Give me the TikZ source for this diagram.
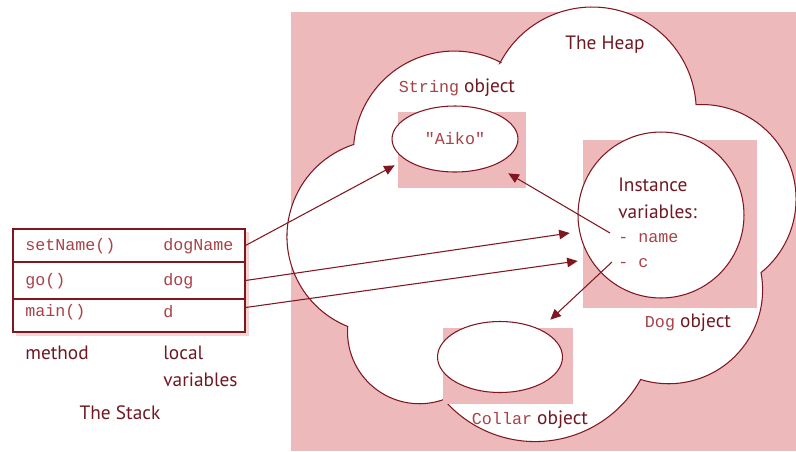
\documentclass[tikz,border=0pt]{standalone}
\usepackage{fontspec}
\setsansfont{PT Sans}
\setmonofont{Liberation Mono}
\usepackage{tikz}
\usetikzlibrary{shapes.geometric,arrows.meta,calc}
\definecolor{heappink}{RGB}{237,185,187}
\definecolor{lineRed}{RGB}{128,22,32}
\definecolor{labelRed}{RGB}{112,24,34}
\definecolor{codeRed}{RGB}{168,66,72}
\newcommand{\jcode}[1]{{\ttfamily\fontsize{9.5}{11}\selectfont\color{codeRed}#1}}
\tikzset{
  lbl/.style={font=\sffamily\fontsize{11}{13}\selectfont, text=labelRed, inner sep=0pt},
  codetxt/.style={font=\ttfamily\fontsize{9.5}{11}\selectfont, text=codeRed, inner sep=0pt},
  objbox/.style={fill=heappink, draw=none, inner sep=0pt},
  objshape/.style={draw=lineRed, fill=white, line width=0.6pt, inner sep=0pt},
  stackrow/.style={draw=lineRed, line width=0.6pt, minimum width=4.64cm, inner sep=0pt},
  pointer/.style={draw=lineRed, line width=0.6pt, -{Triangle[length=0.21cm,width=0.19cm]}}
}

\begin{document}
\begin{tikzpicture}[x=0.02cm, y=-0.02cm]
    \useasboundingbox (0,0) rectangle (796,451);
    % the heap
    \fill[heappink] (291,12) rectangle (796,451);
    \draw[lineRed, fill=white, line width=0.6pt] (500,63)
        arc[start angle=207.5, end angle=356.5, radius=104]
        arc[start angle=266.7, end angle=411, radius=94.6]
        arc[start angle=349.5, end angle=467.3, radius=94]
        arc[start angle=29, end angle=139.4, radius=120.5]
        arc[start angle=70.2, end angle=184.3, radius=71.9]
        arc[start angle=111.9, end angle=251.9, radius=96.9]
        arc[start angle=184.2, end angle=297.5, radius=100.8] -- cycle;
    \node[lbl] (heap) at (605,45) {The Heap};

    % String object
    \node[objbox, minimum width=2.56cm, minimum height=1.52cm] (strbox) at (462,150) {};
    \node[objshape, ellipse, minimum width=2.52cm, minimum height=1.32cm, codetxt] (aiko) at (455,139) {"Aiko"};
    \node[lbl] (strlbl) at (457,88) {\jcode{String} object};

    % Dog object
    \node[objbox, minimum width=3.48cm, minimum height=3.36cm] (dogbox) at (670,224) {};
    \node[objshape, circle, minimum size=3.32cm] (dog) at (661,215) {};
    \node[lbl, anchor=west] (inst) at (618,185) {Instance};
    \node[lbl, anchor=west] (vars) at (618,212) {variables:};
    \node[codetxt, anchor=west] (vname) at (618,238) {- name};
    \node[codetxt, anchor=west] (vc) at (618,263) {- c};
    \node[lbl] (doglbl) at (688,323) {\jcode{Dog} object};

    % Collar object
    \node[objbox, minimum width=2.6cm, minimum height=1.52cm] (collarbox) at (508,366) {};
    \node[objshape, ellipse, minimum width=2.5cm, minimum height=1.42cm] (collar) at (500,357) {};
    \node[lbl] (collarlbl) at (530,420) {\jcode{Collar} object};

    % the stack
    \fill[heappink!60] (16,232) rectangle (249,336);
    \node[stackrow, fill=white, minimum height=0.66cm] (r1) at (129,245.5) {};
    \node[stackrow, fill=white, minimum height=0.74cm] (r2) at (129,280.5) {};
    \node[stackrow, fill=white, minimum height=0.66cm] (r3) at (129,315.5) {};
    \node[codetxt, anchor=west] (m1) at (25,246) {setName()};
    \node[codetxt, anchor=west] (v1) at (163,246) {dogName};
    \node[codetxt, anchor=west] (m2) at (25,281) {go()};
    \node[codetxt, anchor=west] (v2) at (163,281) {dog};
    \node[codetxt, anchor=west] (m3) at (25,312) {main()};
    \node[codetxt, anchor=west] (v3) at (163,312) {d};
    \node[lbl, anchor=west] (method) at (25,353) {method};
    \node[lbl, anchor=west] (local) at (163,353) {local};
    \node[lbl, anchor=west] (localvars) at (163,380) {variables};
    \node[lbl] (stack) at (120,413) {The Stack};

    % references
    \draw[pointer] (r1.east) -- ($(strbox.south west)+(-3,-23)$);
    \draw[pointer] (r2.east) -- ($(dogbox.west)+(-13,9)$);
    \draw[pointer] ($(r3.east)+(0,-8)$) -- ($(dogbox.west)+(-5,37)$);
    \draw[pointer] ($(vname.west)+(-8,-5)$) -- ($(strbox.south east)+(-18,-15)$);
    \draw[pointer] ($(vc.west)+(-6,-1)$) -- ($(collarbox.north east)+(-23,-8)$);
\end{tikzpicture}
\end{document}
